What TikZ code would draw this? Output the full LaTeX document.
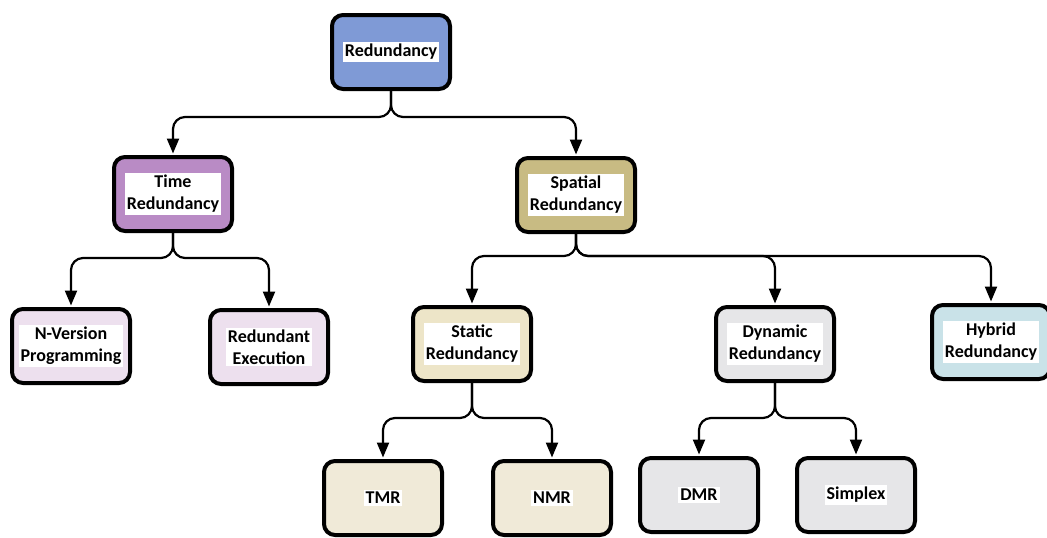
\documentclass[tikz,border=0pt]{standalone}
\usepackage{fontspec}
\setmainfont{Carlito}
\usetikzlibrary{arrows.meta}

\definecolor{cRoot}{HTML}{7F9AD6}
\definecolor{cTime}{HTML}{B98BC5}
\definecolor{cSpat}{HTML}{C8BB83}
\definecolor{cTimeLeaf}{HTML}{EDE0EE}
\definecolor{cStat}{HTML}{EDE5C8}
\definecolor{cDyn}{HTML}{E6E6E8}
\definecolor{cHyb}{HTML}{C9E2E8}
\definecolor{cStatLeaf}{HTML}{F0EAD8}

\tikzset{
  box/.style={draw=black, line width=4pt, rounded corners=11pt,
    minimum width=118pt, minimum height=74pt, inner sep=0pt},
  txt/.style={fill=white, inner sep=2pt, align=center,
    font=\fontsize{18}{22}\selectfont\bfseries},
  conn/.style={draw=black, line width=2.2pt, rounded corners=12pt,
    -{Triangle[length=15pt,width=12pt]}, shorten >=1.5pt}
}

\begin{document}
\begin{tikzpicture}[x=1pt, y=-1pt]
  \useasboundingbox (0,0) rectangle (1047,538);

  % boxes
  \node[box, fill=cRoot]      (r)  at (391,52)  {};
  \node[box, fill=cTime]      (t)  at (173,194) {};
  \node[box, fill=cSpat]      (s)  at (576,195) {};
  \node[box, fill=cTimeLeaf]  (nv) at (71,346)  {};
  \node[box, fill=cTimeLeaf]  (re) at (269,347) {};
  \node[box, fill=cStat]      (st) at (472,344) {};
  \node[box, fill=cDyn]       (dy) at (775,344) {};
  \node[box, fill=cHyb]       (hy) at (991,342) {};
  \node[box, fill=cStatLeaf]  (tm) at (383,498) {};
  \node[box, fill=cStatLeaf]  (nm) at (552,498) {};
  \node[box, fill=cDyn]       (dm) at (699,495) {};
  \node[box, fill=cDyn]       (sp) at (856,495) {};

  % labels
  \node[txt] (rL)  at (r)  {Redundancy};
  \node[txt] (tL)  at (t)  {Time\\Redundancy};
  \node[txt] (sL)  at (s)  {Spatial\\Redundancy};
  \node[txt] (nvL) at (nv) {N-Version\\Programming};
  \node[txt] (reL) at (re) {Redundant\\Execution};
  \node[txt] (stL) at (st) {Static\\Redundancy};
  \node[txt] (dyL) at (dy) {Dynamic\\Redundancy};
  \node[txt] (hyL) at (hy) {Hybrid\\Redundancy};
  \node[txt] (tmL) at (tm) {TMR};
  \node[txt] (nmL) at (nm) {NMR};
  \node[txt] (dmL) at (dm) {DMR};
  \node[txt] (spL) at (sp) {Simplex};

  % connectors
  \draw[conn] (r.south) -- ++(0,26) -| (t.north);
  \draw[conn] (r.south) -- ++(0,26) -| (s.north);
  \draw[conn] (t.south) -- ++(0,25) -| (nv.north);
  \draw[conn] (t.south) -- ++(0,25) -| (re.north);
  \draw[conn] (s.south) -- ++(0,22) -| (st.north);
  \draw[conn] (s.south) -- ++(0,22) -| (dy.north);
  \draw[conn] (s.south) -- ++(0,22) -| (hy.north);
  \draw[conn] (st.south) -- ++(0,35) -| (tm.north);
  \draw[conn] (st.south) -- ++(0,35) -| (nm.north);
  \draw[conn] (dy.south) -- ++(0,35) -| (dm.north);
  \draw[conn] (dy.south) -- ++(0,35) -| (sp.north);
\end{tikzpicture}
\end{document}
